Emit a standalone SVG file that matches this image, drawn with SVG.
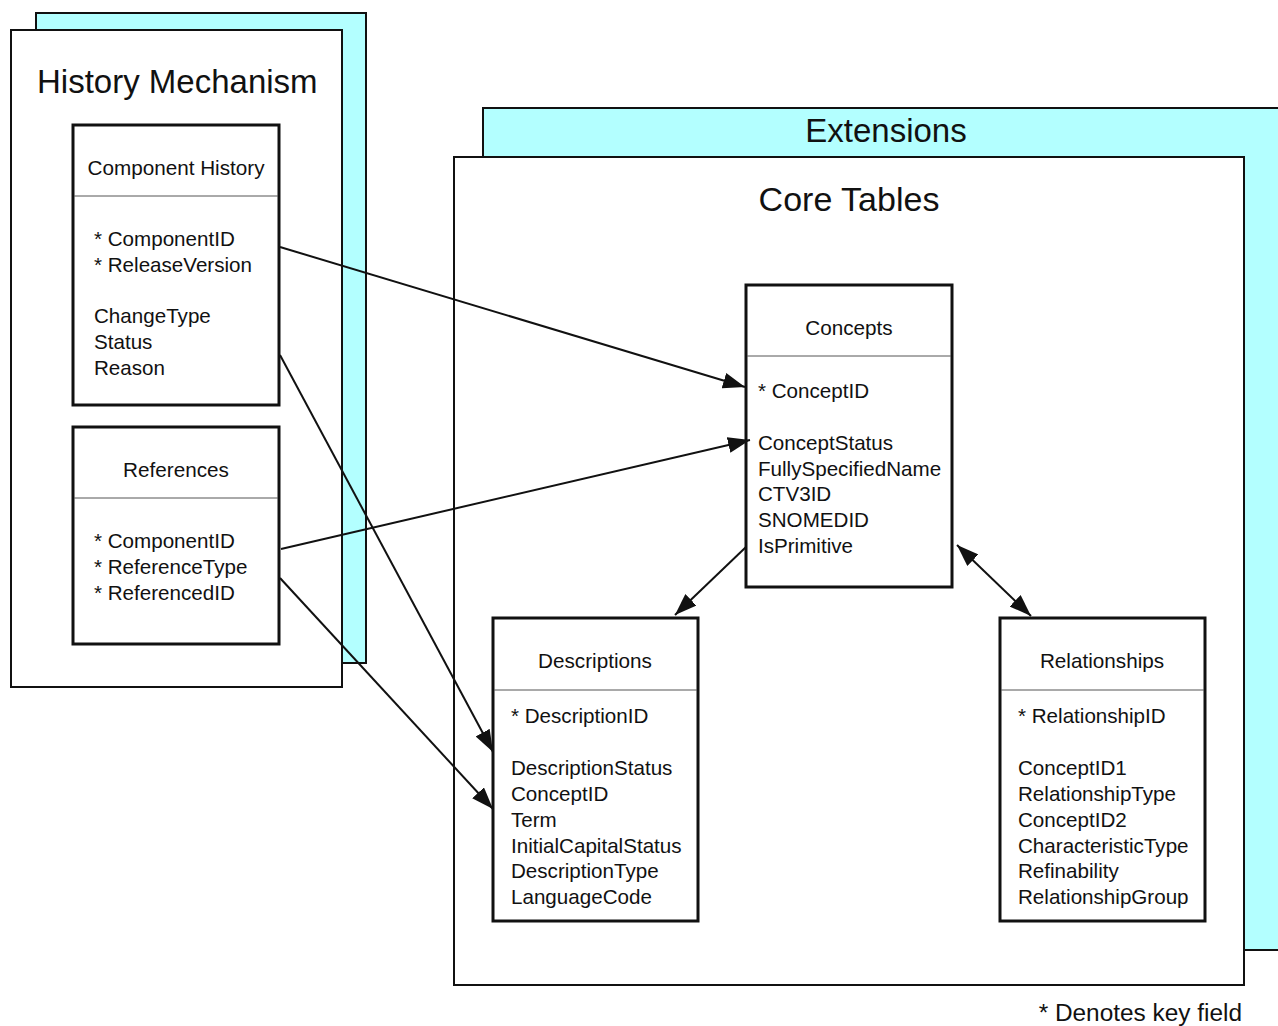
<svg xmlns="http://www.w3.org/2000/svg" width="1278" height="1026" viewBox="0 0 1278 1026">
  <style>
    text { font-family: "Liberation Sans", Arial, sans-serif; fill: #111; }
    .shadow { fill: #b3ffff; stroke: #111; stroke-width: 2; }
    .panel { fill: #fff; stroke: #111; stroke-width: 2; }
    .table { fill: #fff; stroke: #111; stroke-width: 3; }
    .divider { stroke: #555; stroke-width: 1; }
    .title { font-size: 33px; }
    .head { font-size: 20.7px; text-anchor: middle; }
    .field { font-size: 20.6px; }
    .link { stroke: #111; stroke-width: 2; fill: none; }
  </style>
  <defs>
    <marker id="arrow" viewBox="0 0 22 16" refX="22" refY="8" markerWidth="22" markerHeight="16" markerUnits="userSpaceOnUse" orient="auto-start-reverse">
      <path d="M0,0 L22,8 L0,16 Z" fill="#111"/>
    </marker>
  </defs>

  <rect width="1278" height="1026" fill="#fff"/>

  <!-- History Mechanism panel -->
  <g id="history">
    <rect class="shadow" x="36" y="13" width="330" height="650"/>
    <rect class="panel" x="11" y="30" width="331" height="657"/>
    <text class="title" x="37" y="93">History Mechanism</text>
  </g>

  <!-- Extensions / Core Tables panel -->
  <g id="extensions">
    <rect class="shadow" x="483" y="108" width="800" height="842"/>
    <text x="886" y="142" font-size="33" text-anchor="middle">Extensions</text>
  </g>
  <g id="core">
    <rect class="panel" x="454" y="157" width="790" height="828" stroke-width="3"/>
    <text x="849" y="211" font-size="34" text-anchor="middle">Core Tables</text>
  </g>

  <g id="component-history">
    <rect class="table" x="73" y="125" width="206" height="280"/>
    <line class="divider" x1="74" y1="196" x2="278" y2="196"/>
    <text class="head" x="176" y="175">Component History</text>
    <text class="field" x="94" y="246">* ComponentID</text>
    <text class="field" x="94" y="272">* ReleaseVersion</text>
    <text class="field" x="94" y="323">ChangeType</text>
    <text class="field" x="94" y="349">Status</text>
    <text class="field" x="94" y="375">Reason</text>
  </g>

  <g id="references">
    <rect class="table" x="73" y="427" width="206" height="217"/>
    <line class="divider" x1="74" y1="498" x2="278" y2="498"/>
    <text class="head" x="176" y="477">References</text>
    <text class="field" x="94" y="548">* ComponentID</text>
    <text class="field" x="94" y="574">* ReferenceType</text>
    <text class="field" x="94" y="600">* ReferencedID</text>
  </g>

  <g id="concepts">
    <rect class="table" x="746" y="285" width="206" height="302"/>
    <line class="divider" x1="747" y1="356" x2="951" y2="356"/>
    <text class="head" x="849" y="335">Concepts</text>
    <text class="field" x="758" y="398">* ConceptID</text>
    <text class="field" x="758" y="450">ConceptStatus</text>
    <text class="field" x="758" y="476">FullySpecifiedName</text>
    <text class="field" x="758" y="501">CTV3ID</text>
    <text class="field" x="758" y="527">SNOMEDID</text>
    <text class="field" x="758" y="553">IsPrimitive</text>
  </g>

  <g id="descriptions">
    <rect class="table" x="493" y="618" width="205" height="303"/>
    <line class="divider" x1="494" y1="690" x2="697" y2="690"/>
    <text class="head" x="595" y="668">Descriptions</text>
    <text class="field" x="511" y="723">* DescriptionID</text>
    <text class="field" x="511" y="775">DescriptionStatus</text>
    <text class="field" x="511" y="801">ConceptID</text>
    <text class="field" x="511" y="827">Term</text>
    <text class="field" x="511" y="853">InitialCapitalStatus</text>
    <text class="field" x="511" y="878">DescriptionType</text>
    <text class="field" x="511" y="904">LanguageCode</text>
  </g>

  <g id="relationships">
    <rect class="table" x="1000" y="618" width="205" height="303"/>
    <line class="divider" x1="1001" y1="690" x2="1204" y2="690"/>
    <text class="head" x="1102" y="668">Relationships</text>
    <text class="field" x="1018" y="723">* RelationshipID</text>
    <text class="field" x="1018" y="775">ConceptID1</text>
    <text class="field" x="1018" y="801">RelationshipType</text>
    <text class="field" x="1018" y="827">ConceptID2</text>
    <text class="field" x="1018" y="853">CharacteristicType</text>
    <text class="field" x="1018" y="878">Refinability</text>
    <text class="field" x="1018" y="904">RelationshipGroup</text>
  </g>

  <!-- Connectors between tables -->
  <g id="connectors">
    <line class="link" x1="280" y1="247" x2="745" y2="387" marker-end="url(#arrow)"/>
    <line class="link" x1="280" y1="355" x2="493" y2="752" marker-end="url(#arrow)"/>
    <line class="link" x1="281" y1="549" x2="750" y2="440" marker-end="url(#arrow)"/>
    <line class="link" x1="280" y1="578" x2="493" y2="809" marker-end="url(#arrow)"/>
    <line class="link" x1="746" y1="547" x2="675" y2="615" marker-end="url(#arrow)"/>
    <line class="link" x1="957" y1="545" x2="1031" y2="616" marker-start="url(#arrow)" marker-end="url(#arrow)"/>
  </g>

  <text x="1242" y="1021" font-size="24.4" text-anchor="end">* Denotes key field</text>
</svg>
